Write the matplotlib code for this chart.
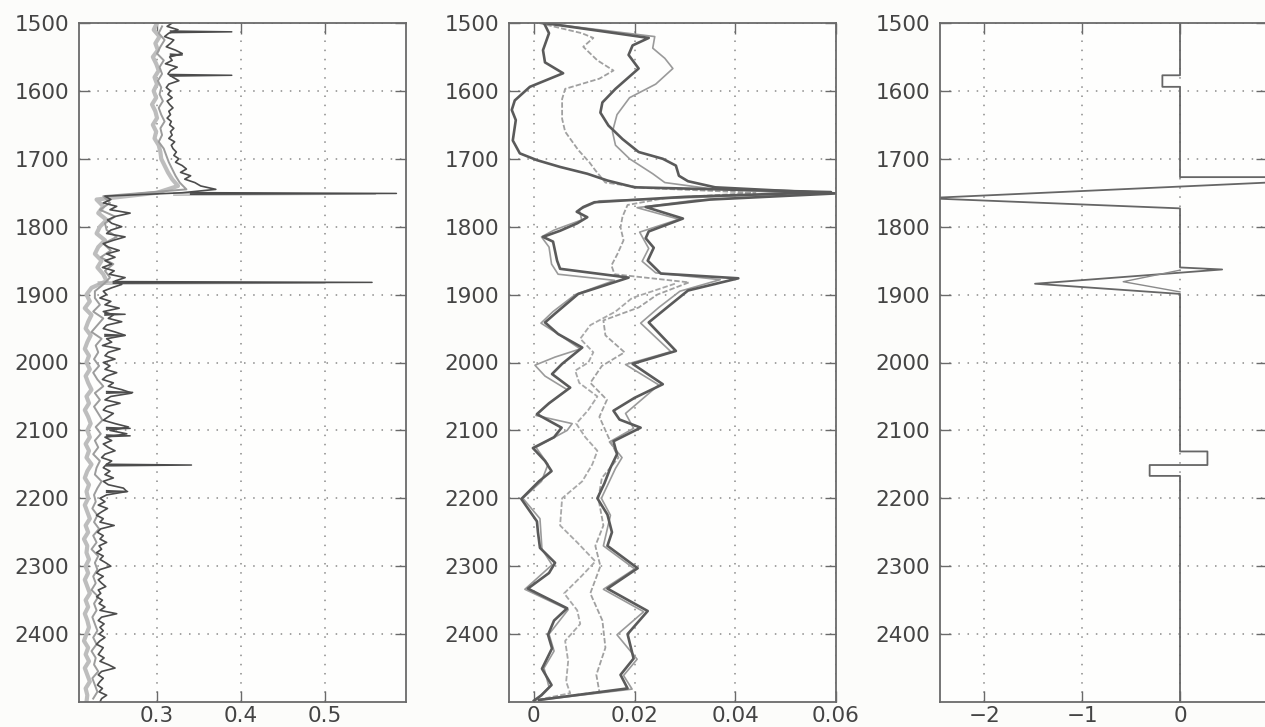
import numpy as np
import matplotlib
matplotlib.use("Agg")
import matplotlib.pyplot as plt

# ---------------- Panel 1 data (log curves, 5 m / 10 m sampling) ----------------
depth_dark = np.arange(1500, 2501, 5)
val_dark = [
    0.318, 0.312, 0.325, 0.314, 0.309, 0.320, 0.316, 0.311, 0.322, 0.330,
    0.315, 0.318, 0.310, 0.324, 0.316, 0.313, 0.319, 0.326, 0.314, 0.311,
    0.316, 0.313, 0.318, 0.312, 0.315, 0.319, 0.314, 0.316, 0.312, 0.317,
    0.315, 0.320, 0.316, 0.318, 0.314, 0.321, 0.317, 0.319, 0.323, 0.320,
    0.326, 0.322, 0.330, 0.335, 0.328, 0.340, 0.333, 0.345, 0.352, 0.370,
    0.330, 0.238, 0.245, 0.236, 0.252, 0.244, 0.268, 0.250, 0.241, 0.246,
    0.258, 0.245, 0.240, 0.262, 0.248, 0.236, 0.242, 0.255, 0.240, 0.250,
    0.238, 0.246, 0.235, 0.249, 0.243, 0.262, 0.250, 0.258, 0.246, 0.236,
    0.240, 0.232, 0.245, 0.238, 0.255, 0.236, 0.248, 0.242, 0.258, 0.240,
    0.236, 0.250, 0.262, 0.240, 0.246, 0.235, 0.256, 0.242, 0.238, 0.250,
    0.236, 0.244, 0.238, 0.252, 0.240, 0.235, 0.248, 0.242, 0.258, 0.270,
    0.245, 0.238, 0.256, 0.240, 0.236, 0.248, 0.242, 0.236, 0.250, 0.266,
    0.244, 0.264, 0.238, 0.246, 0.236, 0.242, 0.250, 0.238, 0.234, 0.246,
    0.240, 0.236, 0.244, 0.238, 0.248, 0.236, 0.242, 0.260, 0.264, 0.240,
    0.232, 0.238, 0.230, 0.241, 0.234, 0.228, 0.236, 0.232, 0.249, 0.233,
    0.229, 0.236, 0.232, 0.240, 0.231, 0.234, 0.228, 0.236, 0.232, 0.239,
    0.245, 0.232, 0.228, 0.236, 0.230, 0.234, 0.239, 0.230, 0.233, 0.228,
    0.235, 0.231, 0.238, 0.232, 0.252, 0.234, 0.230, 0.237, 0.232, 0.236,
    0.231, 0.238, 0.232, 0.228, 0.236, 0.233, 0.230, 0.237, 0.232, 0.242,
    0.250, 0.234, 0.230, 0.236, 0.232, 0.229, 0.235, 0.231, 0.240, 0.234,
    0.232,
]
depth_mid = np.arange(1505, 2500, 10)
val_mid = [
    0.306, 0.302, 0.309, 0.304, 0.300, 0.308, 0.303, 0.306, 0.301, 0.305,
    0.303, 0.307, 0.302, 0.305, 0.309, 0.304, 0.306, 0.302, 0.308, 0.311,
    0.314, 0.318, 0.322, 0.327, 0.335, 0.236, 0.244, 0.232, 0.250, 0.238,
    0.240, 0.252, 0.236, 0.245, 0.233, 0.248, 0.238, 0.244, 0.236, 0.226,
    0.226, 0.232, 0.224, 0.236, 0.229, 0.222, 0.234, 0.227, 0.230, 0.225,
    0.231, 0.224, 0.229, 0.236, 0.226, 0.232, 0.225, 0.230, 0.235, 0.227,
    0.233, 0.226, 0.230, 0.224, 0.232, 0.228, 0.226, 0.234, 0.229, 0.225,
    0.227, 0.223, 0.229, 0.225, 0.231, 0.224, 0.228, 0.222, 0.230, 0.226,
    0.229, 0.224, 0.227, 0.222, 0.230, 0.225, 0.228, 0.223, 0.226, 0.229,
    0.224, 0.228, 0.222, 0.227, 0.225, 0.230, 0.223, 0.226, 0.229, 0.224,
]
depth_light = np.arange(1500, 2501, 10)
val_light = [
    0.300, 0.296, 0.303, 0.298, 0.301, 0.295, 0.299, 0.302, 0.297, 0.300,
    0.296, 0.299, 0.294, 0.298, 0.300, 0.295, 0.299, 0.297, 0.302, 0.304,
    0.305, 0.309, 0.313, 0.318, 0.325, 0.300, 0.228, 0.236, 0.230, 0.240,
    0.232, 0.228, 0.238, 0.230, 0.226, 0.234, 0.229, 0.236, 0.240, 0.222,
    0.216, 0.220, 0.214, 0.222, 0.218, 0.215, 0.221, 0.217, 0.214, 0.219,
    0.216, 0.220, 0.215, 0.218, 0.222, 0.216, 0.219, 0.214, 0.218, 0.221,
    0.217, 0.220, 0.215, 0.219, 0.216, 0.222, 0.217, 0.214, 0.219, 0.216,
    0.218, 0.214, 0.217, 0.220, 0.215, 0.218, 0.213, 0.217, 0.216, 0.219,
    0.215, 0.218, 0.214, 0.217, 0.220, 0.215, 0.218, 0.214, 0.217, 0.219,
    0.216, 0.213, 0.218, 0.215, 0.219, 0.214, 0.217, 0.220, 0.215, 0.217,
    0.216,
]
spike_depth = [1513, 1547, 1577, 1751, 1882, 1929, 1960, 2044, 2097, 2108, 2151, 2190]
spike_val = [0.389, 0.330, 0.389, 0.585, 0.556, 0.262, 0.262, 0.271, 0.268, 0.268, 0.341, 0.265]
spike_base = [0.316, 0.316, 0.316, 0.340, 0.248, 0.238, 0.238, 0.240, 0.240, 0.240, 0.240, 0.240]
lspike_depth = [1752, 1883]
lspike_val = [0.560, 0.500]
lspike_base = [0.320, 0.230]

# ---------------- Panel 2 data (smoothed curves) ----------------
curve_A = [(1500, 0.002), (1515, 0.003), (1540, 0.0018), (1558, 0.0022), (1574, 0.0058), (1594, -0.0008),
           (1614, -0.0038), (1628, -0.0044), (1643, -0.0036), (1673, -0.0042), (1692, -0.0028), (1702, 0.0006),
           (1712, 0.0052), (1722, 0.0106), (1732, 0.0146), (1742, 0.020), (1749, 0.059), (1756, 0.030),
           (1764, 0.012), (1771, 0.0098), (1778, 0.0085), (1786, 0.0106), (1795, 0.0086), (1806, 0.0052),
           (1815, 0.0018), (1822, 0.0038), (1850, 0.0046), (1862, 0.0052), (1875, 0.0188), (1899, 0.0088),
           (1928, 0.0042), (1941, 0.0022), (1958, 0.0048), (1978, 0.0096), (2002, 0.0056), (2017, 0.0036),
           (2037, 0.0072), (2060, 0.003), (2076, 0.0006), (2096, 0.0055), (2110, 0.004), (2126, -0.0002),
           (2145, 0.0022), (2160, 0.0035), (2175, 0.001), (2201, -0.0025), (2234, 0.0006), (2250, 0.0008),
           (2273, 0.0012), (2295, 0.0042), (2310, 0.003), (2333, -0.0012), (2362, 0.0066), (2380, 0.004),
           (2401, 0.0028), (2421, 0.0036), (2451, 0.0016), (2475, 0.0035), (2490, 0.0015), (2498, 0.0)]
curve_A2 = [(1752, 0.050), (1762, 0.013), (1775, 0.009), (1790, 0.0095), (1805, 0.004), (1815, 0.0015),
            (1830, 0.003), (1855, 0.0035), (1870, 0.0048), (1879, 0.016), (1900, 0.0082), (1925, 0.0038),
            (1942, 0.0014), (1960, 0.0052), (1980, 0.0092), (1992, 0.0042), (2004, 0.0002), (2020, 0.0022),
            (2040, 0.0066), (2065, 0.0022), (2078, 0.0004), (2090, 0.0076), (2100, 0.0066), (2125, 0.0004),
            (2150, 0.0028), (2175, 0.0015), (2200, -0.0022), (2230, 0.0012), (2275, 0.0016), (2298, 0.0036),
            (2334, -0.0018), (2364, 0.0068), (2400, 0.0030), (2425, 0.0040), (2450, 0.0020), (2478, 0.0030),
            (2497, 0.0004)]
curve_B = [(1500, 0.001), (1515, 0.0095), (1522, 0.0118), (1535, 0.0098), (1555, 0.0126), (1570, 0.0158),
           (1582, 0.013), (1597, 0.0062), (1612, 0.0056), (1641, 0.0056), (1660, 0.0062), (1687, 0.0088),
           (1705, 0.011), (1717, 0.0122), (1735, 0.0142), (1743, 0.022), (1750, 0.044), (1758, 0.026),
           (1768, 0.0186), (1785, 0.0176), (1801, 0.0172), (1820, 0.0178), (1840, 0.0166), (1857, 0.0154),
           (1870, 0.016), (1882, 0.0308), (1900, 0.0245), (1919, 0.0208), (1938, 0.0138), (1960, 0.0142),
           (1985, 0.018), (2005, 0.0135), (2030, 0.0112), (2055, 0.0145), (2080, 0.0130), (2110, 0.0148),
           (2140, 0.0168), (2170, 0.0135), (2200, 0.0128), (2240, 0.0138), (2270, 0.0122), (2300, 0.0132),
           (2340, 0.0112), (2380, 0.0136), (2420, 0.0142), (2460, 0.0124), (2485, 0.0130), (2497, 0.0008)]
curve_C = [(1884, 0.028), (1905, 0.0195), (1925, 0.0162), (1945, 0.0112), (1965, 0.0092), (1985, 0.0118),
           (2000, 0.0108), (2012, 0.0082), (2030, 0.0090), (2050, 0.0126), (2070, 0.0108), (2090, 0.0084),
           (2110, 0.0102), (2130, 0.0126), (2150, 0.0116), (2175, 0.0096), (2200, 0.0056), (2240, 0.0052),
           (2265, 0.0086), (2293, 0.0122), (2315, 0.0094), (2340, 0.0060), (2365, 0.0086), (2385, 0.0092),
           (2410, 0.0062), (2440, 0.0068), (2470, 0.0064), (2487, 0.0072), (2497, 0.0006)]
curve_D = [(1500, 0.002), (1522, 0.0228), (1533, 0.0196), (1547, 0.0188), (1567, 0.0208), (1597, 0.0162),
           (1617, 0.0136), (1632, 0.0132), (1651, 0.0148), (1671, 0.0176), (1690, 0.0208), (1700, 0.0256),
           (1710, 0.0282), (1725, 0.0288), (1733, 0.0306), (1742, 0.036), (1751, 0.060), (1760, 0.035),
           (1771, 0.0222), (1788, 0.0296), (1807, 0.0228), (1817, 0.0222), (1831, 0.0238), (1850, 0.0226),
           (1869, 0.0252), (1876, 0.0406), (1894, 0.0306), (1918, 0.0266), (1941, 0.0228), (1983, 0.0282),
           (2002, 0.0196), (2032, 0.0256), (2052, 0.020), (2071, 0.0158), (2084, 0.017), (2096, 0.0212),
           (2116, 0.0158), (2135, 0.0165), (2155, 0.0152), (2178, 0.014), (2200, 0.0126), (2224, 0.0146),
           (2250, 0.0155), (2270, 0.0146), (2303, 0.0206), (2333, 0.0146), (2366, 0.0226), (2400, 0.0186),
           (2436, 0.0198), (2460, 0.0172), (2480, 0.0186), (2497, 0.001)]
curve_E = [(1500, 0.002), (1520, 0.024), (1537, 0.0236), (1552, 0.026), (1567, 0.0276), (1590, 0.0242),
           (1610, 0.019), (1635, 0.0165), (1660, 0.0156), (1680, 0.0162), (1700, 0.019), (1722, 0.0236),
           (1735, 0.026), (1744, 0.035), (1752, 0.055), (1761, 0.032), (1772, 0.0205), (1789, 0.0288),
           (1808, 0.021), (1832, 0.0228), (1851, 0.0215), (1868, 0.0242), (1878, 0.037), (1895, 0.029),
           (1919, 0.0248), (1942, 0.0212), (1984, 0.0272), (2003, 0.0182), (2033, 0.0248), (2075, 0.0182),
           (2097, 0.0198), (2117, 0.015), (2140, 0.0175), (2156, 0.0162), (2200, 0.0134), (2225, 0.0152),
           (2270, 0.0138), (2304, 0.020), (2334, 0.0138), (2367, 0.0218), (2401, 0.0165), (2437, 0.0205),
           (2461, 0.0178), (2481, 0.0195), (2497, 0.0012)]

# ---------------- Panel 3 data (step indicator) ----------------
step_depth = [1500, 1577, 1577, 1594, 1594, 1727, 1727, 1733, 1758, 1773, 1860, 1863, 1884, 1899,
              2131, 2131, 2151, 2151, 2167, 2167, 2500]
step_val = [0, 0, -0.18, -0.18, 0, 0, 1.2, 1.2, -2.6, 0, 0, 0.43, -1.48, 0,
            0, 0.28, 0.28, -0.31, -0.31, 0, 0]
inner_depth = [1864, 1881, 1896]
inner_val = [0, -0.58, 0]

yticks = [1500, 1600, 1700, 1800, 1900, 2000, 2100, 2200, 2300, 2400]
xticks1 = [0.3, 0.4, 0.5]
xticks2 = [0, 0.02, 0.04, 0.06]
xticks3 = [-2, -1, 0]
xlabels2 = ["0", "0.02", "0.04", "0.06"]

# ---------------- Figure ----------------
W, H = 1265, 727
fig = plt.figure(figsize=(W / 100, H / 100), dpi=100, facecolor="#fcfcfa")
plt.rcParams['font.family'] = ['DejaVu Sans']

def px_axes(left, right, top=23, bottom=702):
    return fig.add_axes([left / W, (H - bottom) / H, (right - left) / W, (bottom - top) / H])

ax1 = px_axes(79, 406)
ax2 = px_axes(509, 836)
ax3 = px_axes(940, 1267)

tick_col = "#444444"
spine_col = "#6a6a6a"
for ax in (ax1, ax2, ax3):
    ax.set_facecolor("#fefefd")
    ax.set_ylim(2500, 1500)
    ax.set_yticks(yticks)
    ax.grid(True, linestyle=(0, (1, 5)), color="#8a8a8a", linewidth=1.1)
    ax.tick_params(direction="in", length=8, width=1.0, color=spine_col,
                   top=True, right=True, labelsize=15.5, labelcolor=tick_col)
    ax.tick_params(axis="y", pad=7)
    ax.tick_params(axis="x", pad=3)
    for s in ax.spines.values():
        s.set_color(spine_col)
        s.set_linewidth(1.3)

# Panel 1
ax1.set_xlim(0.2071, 0.5964)
ax1.set_xticks(xticks1)
ax1.plot(val_light, depth_light, color="#bdbdbd", lw=3.0)
for d, v, b in zip(lspike_depth, lspike_val, lspike_base):
    ax1.plot([b, v, b], [d - 1.5, d, d + 1.5], color="#b0b0b0", lw=1.0)
ax1.plot(val_mid, depth_mid, color="#9c9c9c", lw=1.4)
ax1.plot(val_dark, depth_dark, color="#4c4c4c", lw=1.2)
for d, v, b in zip(spike_depth, spike_val, spike_base):
    ax1.plot([b, v, b], [d - 1.2, d, d + 1.2], color="#4c4c4c", lw=1.1)

# Panel 2
ax2.set_xlim(-0.00495, 0.0598)
ax2.set_xticks(xticks2)
ax2.set_xticklabels(xlabels2)

def draw(ax, pairs, **kw):
    d = [p[0] for p in pairs]
    v = [p[1] for p in pairs]
    ax.plot(v, d, **kw)

draw(ax2, curve_C, color="#a8a8a8", lw=1.3, linestyle=(0, (3, 1.2)))
draw(ax2, curve_B, color="#a0a0a0", lw=1.3, linestyle=(0, (3, 1.2)))
draw(ax2, curve_A2, color="#9a9a9a", lw=1.2)
draw(ax2, curve_E, color="#9a9a9a", lw=1.2)
draw(ax2, curve_A, color="#5a5a5a", lw=1.9)
draw(ax2, curve_D, color="#5a5a5a", lw=1.9)

# Panel 3
ax3.set_xlim(-2.45, 0.888)
ax3.set_xticks(xticks3)
ax3.set_xticklabels(["\u22122", "\u22121", "0"])
ax3.plot(step_val, step_depth, color="#666666", lw=1.3)
ax3.plot(inner_val, inner_depth, color="#8a8a8a", lw=1.0)

fig.savefig("out.png", dpi=100, facecolor=fig.get_facecolor())
